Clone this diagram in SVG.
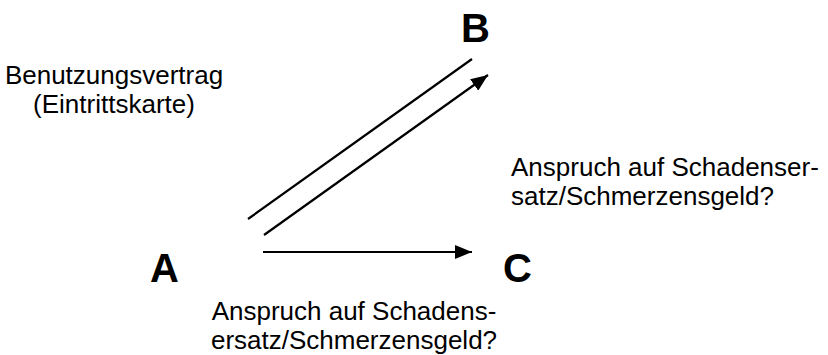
<svg xmlns="http://www.w3.org/2000/svg" width="828" height="355" viewBox="0 0 828 355">
<style>
.lbl{font-family:"Liberation Sans",Arial,sans-serif;font-size:26px;fill:#000}
.node{font-family:"Liberation Sans",Arial,sans-serif;font-size:40px;font-weight:bold;fill:#000}
.ln{stroke:#000;stroke-width:2.2;fill:none}
</style>
<defs>
<marker id="ah" markerWidth="17" markerHeight="14" refX="17" refY="7" orient="auto" markerUnits="userSpaceOnUse" viewBox="0 0 17 14">
<path d="M0,0 L17,7 L0,14 Z" fill="#000"/>
</marker>
</defs>
<g id="A"><text class="node" x="150" y="282">A</text></g>
<g id="B"><text class="node" x="461" y="42">B</text></g>
<g id="C"><text class="node" x="503" y="282">C</text></g>
<g id="labels">
<text class="lbl" x="114" y="84" text-anchor="middle">Benutzungsvertrag</text>
<text class="lbl" x="114" y="113" text-anchor="middle">(Eintrittskarte)</text>
<text class="lbl" x="511" y="176">Anspruch auf Schadenser-</text>
<text class="lbl" x="511" y="205">satz/Schmerzensgeld?</text>
<text class="lbl" x="354" y="320" text-anchor="middle">Anspruch auf Schadens-</text>
<text class="lbl" x="354" y="349" text-anchor="middle">ersatz/Schmerzensgeld?</text>
</g>
<g id="connectors">
<line class="ln" x1="248" y1="219" x2="472" y2="59"/>
<line class="ln" x1="264" y1="235" x2="488" y2="75" marker-end="url(#ah)"/>
<line class="ln" x1="263" y1="252" x2="472" y2="252" marker-end="url(#ah)"/>
</g>
</svg>
